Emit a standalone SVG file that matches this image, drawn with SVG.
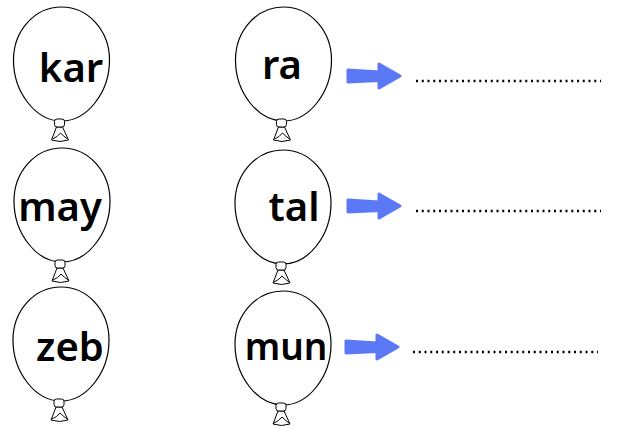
<svg xmlns="http://www.w3.org/2000/svg" xmlns:xlink="http://www.w3.org/1999/xlink" width="621" height="429" viewBox="0 0 621 429">
<style>
.b{fill:#fff;stroke:#000;stroke-width:1.2}
.k{fill:#fff;stroke:#000;stroke-width:1;stroke-linejoin:round}
.t{font-family:"Noto Sans","DejaVu Sans",sans-serif;font-weight:600;font-size:40px;fill:#000;text-anchor:middle}
.arr{fill:#5B79F6;stroke:#5B79F6;stroke-width:3;stroke-linejoin:round}
.dots{stroke:#000;stroke-width:2.5;stroke-dasharray:2 3.75;fill:none}
</style>
<defs>
<g id="balloon">
<path class="b" d="M0,-57 C27,-57 48,-33 48,-4 C48,28 26,57 0,57 C-26,57 -48,28 -48,-4 C-48,-33 -27,-57 0,-57 Z"/>
<path class="k" d="M-5,63 L-10,76 Q-1.5,79 7,76 L1,63 Z"/>
<rect class="k" x="-7" y="55" width="10" height="8" rx="2.5"/>
<path class="k" fill="none" d="M-9,75 Q-4,73 -1,69 Q2,72 6,75"/>
</g>
<path id="arrow" class="arr" d="M-53,-6 L-22,-4 L-22,-12 L-1,0 L-22,12 L-22,4.5 L-53,6 Z"/>
</defs>
<g id="node-kar"><use href="#balloon" x="61.5" y="64"/><text class="t" x="71" y="82">kar</text></g>
<g id="node-ra"><use href="#balloon" x="283.5" y="64"/><text class="t" x="282" y="79">ra</text></g>
<g id="node-may"><use href="#balloon" x="62" y="205"/><text class="t" x="60" y="221">may</text></g>
<g id="node-tal"><use href="#balloon" x="283" y="207"/><text class="t" x="294" y="221">tal</text></g>
<g id="node-zeb"><use href="#balloon" x="61" y="344"/><text class="t" x="70" y="361">zeb</text></g>
<g id="node-mun"><use href="#balloon" x="283" y="348"/><text class="t" x="286" y="360" style="font-size:37px">mun</text></g>
<g id="connectors">
<use href="#arrow" x="401" y="76"/>
<use href="#arrow" x="401" y="206"/>
<use href="#arrow" x="399" y="347"/>
<line class="dots" x1="416" y1="81" x2="601" y2="81"/>
<line class="dots" x1="416" y1="211" x2="601" y2="211"/>
<line class="dots" x1="413" y1="352" x2="598" y2="352"/>
</g>
</svg>
